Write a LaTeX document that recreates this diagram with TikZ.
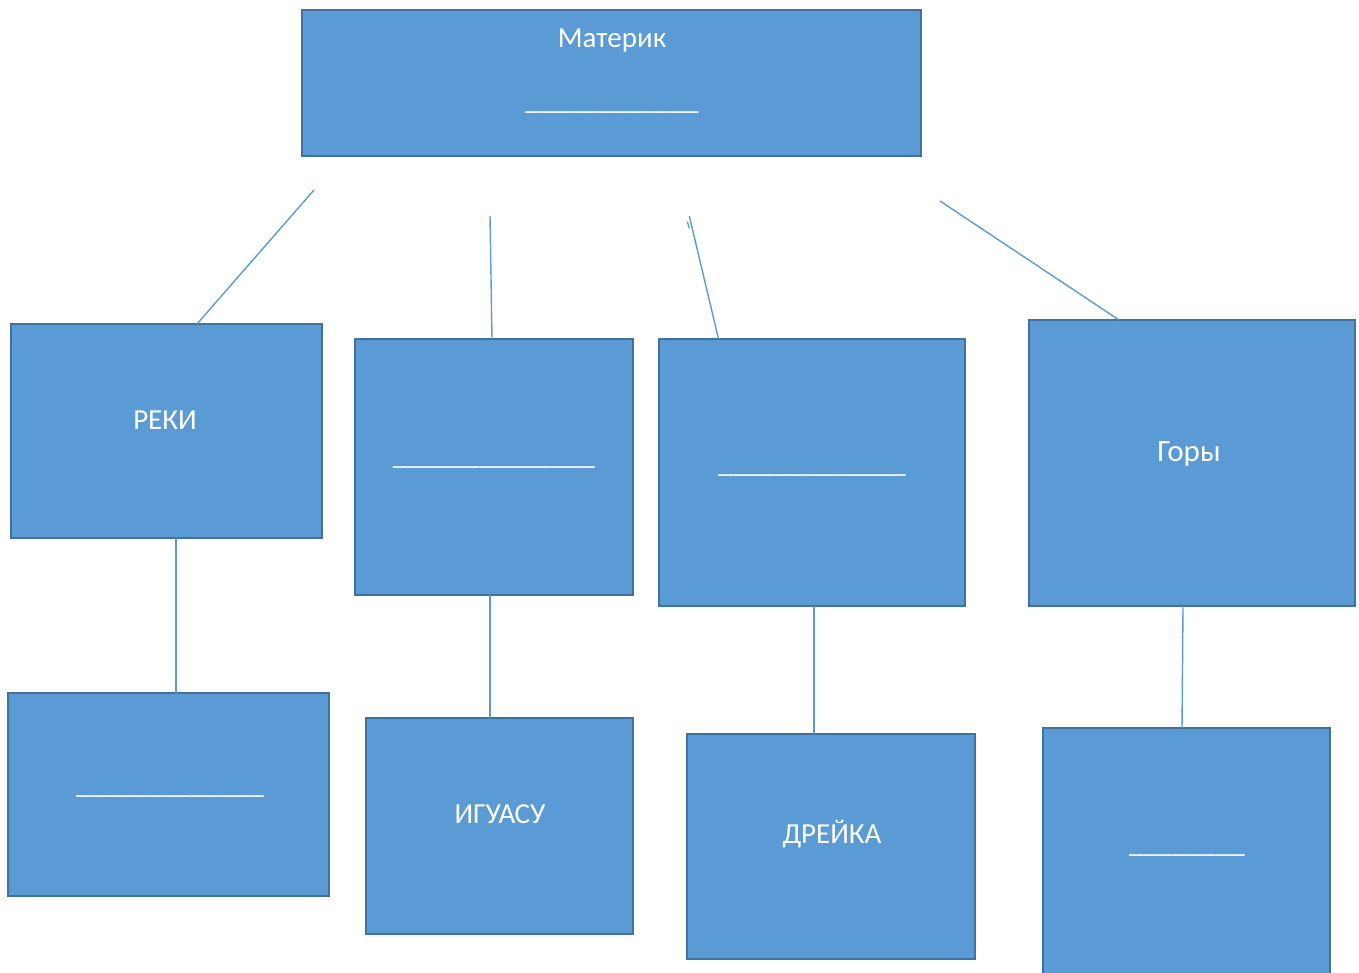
\documentclass[tikz,border=0pt]{standalone}
\usepackage{fontspec}
\setmainfont{Carlito}
\definecolor{boxfill}{HTML}{5B9BD5}
\definecolor{boxline}{HTML}{41719C}
\begin{document}
\begin{tikzpicture}[x=1pt,y=-1pt,
  box/.style={draw=boxline, fill=boxfill, line width=2.7pt, inner sep=0pt, outer sep=0pt},
  lbl/.style={text=white, font=\fontsize{29}{34}\selectfont, inner sep=0pt, anchor=base},
  conn/.style={draw=boxfill, line width=1.4pt}]
\useasboundingbox (0,0) rectangle (1359,973);
% boxes
\node[box, minimum width=619pt, minimum height=146pt] (top)  at (611.5,83) {};
\node[box, minimum width=311pt, minimum height=214pt] (reki) at (166.5,431) {};
\node[box, minimum width=278pt, minimum height=256pt] (b2)   at (494,467) {};
\node[box, minimum width=306pt, minimum height=267pt] (b3)   at (812,472.5) {};
\node[box, minimum width=326pt, minimum height=286pt] (gory) at (1192,463) {};
\node[box, minimum width=321pt, minimum height=203pt] (c1)   at (168.5,794.5) {};
\node[box, minimum width=267pt, minimum height=216pt] (c2)   at (499.5,826) {};
\node[box, minimum width=288pt, minimum height=225pt] (c3)   at (831,846.5) {};
\node[box, minimum width=287pt, minimum height=262pt] (c4)   at (1186.5,859) {};
% texts
\node[lbl] (tTop)  at (612,48)  {Материк};
\node[lbl] (tTopU) at (612,110) {\_\_\_\_\_\_\_\_\_\_\_\_};
\node[lbl] (tReki) at (165,429) {РЕКИ};
\node[lbl] (tB2)   at (494,464) {\_\_\_\_\_\_\_\_\_\_\_\_\_\_};
\node[lbl] (tB3)   at (812,472) {\_\_\_\_\_\_\_\_\_\_\_\_\_};
\node[lbl, font=\fontsize{31}{36}\selectfont] (tGory) at (1189,461) {Горы};
\node[lbl] (tC1)   at (170,793) {\_\_\_\_\_\_\_\_\_\_\_\_\_};
\node[lbl] (tC2)   at (500,823) {ИГУАСУ};
\node[lbl] (tC3)   at (832,843) {ДРЕЙКА};
\node[lbl] (tC4)   at (1187,852) {\_\_\_\_\_\_\_\_};
% free ends of connectors
\coordinate (e1) at (314,190);
\coordinate (e2) at (490,216);
\coordinate (e3) at (689.3,216);
\coordinate (e4) at (940,201);
\coordinate (k1) at (687.3,221.7);
\coordinate (k2) at (689.3,228.3);
% connectors
\draw[conn] (e1) -- (reki.north -| 197,0);
\draw[conn] (e2) -- (b2.north -| 492,0);
\draw[conn] (e3) -- (b3.north -| 718.5,0);
\draw[conn] (k1) -- (k2);
\draw[conn] (e4) -- (gory.north -| 1119,0);
\draw[conn] (reki.south -| 176,0) -- (c1.north -| 176,0);
\draw[conn] (b2.south -| 490,0) -- (c2.north -| 490,0);
\draw[conn] (b3.south -| 814,0) -- (c3.north -| 814,0);
\draw[conn] (gory.south -| 1183,0) -- (c4.north -| 1182,0);
\end{tikzpicture}
\end{document}
